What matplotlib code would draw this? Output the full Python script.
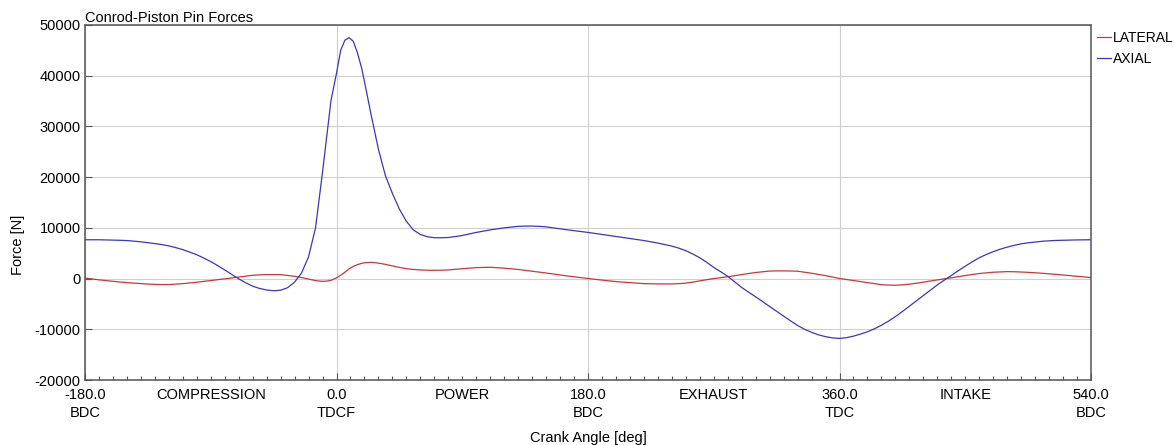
#!/usr/bin/env python3

import matplotlib
matplotlib.use('Agg')
import matplotlib.pyplot as plt
from matplotlib.ticker import MultipleLocator

# crank angle [deg] and pin forces [N]
angle = [-180, -175, -170, -165, -160, -155, -150, -145, -140, -135,
         -130, -125, -120, -115, -110, -105, -100, -95, -90, -85,
         -80, -75, -70, -65, -60, -55, -50, -45, -40, -35,
         -30, -25, -20, -15,
         -10, -7, -4, 0, 3, 6, 9, 12, 15, 18, 21,
         25, 30, 35, 40, 45, 50, 55, 60, 65, 70,
         75, 80, 85, 90, 95, 100, 105, 110, 115, 120,
         125, 130, 135, 140, 145, 150, 155, 160, 165, 170,
         175, 180, 185, 190, 195, 200, 205, 210, 215, 220,
         225, 230, 235, 240, 245, 250, 255, 260, 265, 270,
         275, 280, 285, 290, 295, 300, 305, 310, 315, 320,
         325, 330, 335, 340, 345, 350, 355, 360, 365, 370,
         375, 380, 385, 390, 395, 400, 405, 410, 415, 420,
         425, 430, 435, 440, 445, 450, 455, 460, 465, 470,
         475, 480, 485, 490, 495, 500, 505, 510, 515, 520,
         525, 530, 535, 540]

axial = [7650, 7650, 7650, 7620, 7600, 7550, 7500, 7380, 7250, 7080,
         6900, 6700, 6450, 6100, 5700, 5220, 4700, 4050, 3350, 2550,
         1700, 820, -50, -820, -1500, -1950, -2250, -2400, -2300, -1800,
         -700, 1100, 4300, 10000,
         21000, 28000, 35000, 40500, 45000, 47000, 47500, 46800, 44500, 41500, 37500,
         32000, 25500, 20300, 16800, 13700, 11300, 9600, 8700, 8250, 8050,
         8050, 8100, 8280, 8500, 8800, 9100, 9350, 9600, 9800, 10000,
         10150, 10300, 10350, 10350, 10300, 10200, 10000, 9800, 9620, 9450,
         9280, 9100, 8900, 8700, 8500, 8300, 8100, 7900, 7700, 7500,
         7250, 7000, 6700, 6400, 6000, 5500, 4850, 4100, 3200, 2200,
         1350, 450, -650, -1750, -2700, -3600, -4550, -5500, -6450, -7400,
         -8350, -9250, -10000, -10600, -11100, -11450, -11700, -11800, -11650, -11350,
         -10950, -10500, -9900, -9200, -8400, -7500, -6500, -5450, -4400, -3350,
         -2300, -1250, -300, 600, 1550, 2450, 3300, 4100, 4750, 5300,
         5800, 6200, 6550, 6850, 7050, 7200, 7350, 7450, 7520, 7560,
         7600, 7620, 7640, 7650]

lateral = [100, -80, -250, -400, -550, -680, -800, -900, -1000, -1080,
           -1150, -1180, -1180, -1100, -1000, -870, -720, -560, -400, -220,
           -50, 130, 300, 480, 650, 740, 780, 790, 780, 620,
           450, 200, -100, -400,
           -550, -500, -350, 150, 650, 1250, 1900, 2400, 2750, 3000, 3150,
           3200, 3050, 2800, 2500, 2200, 1950, 1800, 1700, 1650, 1630,
           1650, 1700, 1820, 1950, 2060, 2150, 2200, 2220, 2150, 2050,
           1930, 1800, 1630, 1450, 1280, 1100, 900, 700, 520, 350,
           170, 0, -150, -300, -450, -600, -700, -800, -900, -1000,
           -1030, -1050, -1060, -1050, -1000, -900, -700, -450, -220, 0,
           180, 350, 570, 800, 1000, 1200, 1350, 1480, 1520, 1520,
           1500, 1450, 1260, 1050, 820, 580, 300, 20, -180, -380,
           -600, -800, -1000, -1200, -1280, -1320, -1230, -1100, -920, -700,
           -480, -250, -50, 150, 380, 600, 800, 1000, 1130, 1250,
           1320, 1370, 1350, 1300, 1230, 1150, 1050, 950, 830, 700,
           570, 450, 320, 200]

dead_centres = [-180, 0, 180, 360, 540]
dc_labels = ['-180.0\nBDC', '0.0\nTDCF', '180.0\nBDC', '360.0\nTDC', '540.0\nBDC']
strokes = ['COMPRESSION', 'POWER', 'EXHAUST', 'INTAKE']

plt.rcParams['font.family'] = ['Liberation Sans', 'DejaVu Sans']
plt.rcParams['font.size'] = 10.5
plt.rcParams['axes.unicode_minus'] = False

fig = plt.figure(figsize=(11.74, 4.45), dpi=100)
ax = fig.add_axes([85/1174, 1-380/445, 1006/1174, 355/445])

ax.plot(angle, lateral, color='#c83838', linewidth=0.9, label='LATERAL')
ax.plot(angle, axial, color='#3838b8', linewidth=0.9, label='AXIAL')

ax.set_xlim(-180, 540)
ax.set_ylim(-20000, 50000)

ax.set_xticks(dead_centres)
ax.set_xticklabels(dc_labels)
for lbl in ax.get_xticklabels():
    lbl.set_linespacing(1.4)
ax.xaxis.set_minor_locator(MultipleLocator(10))
ax.yaxis.set_major_locator(MultipleLocator(10000))

ax.tick_params(axis='both', which='major', direction='in', length=5,
               width=0.8, color='#555555', pad=3, labelsize=10.5)
ax.tick_params(axis='x', which='major', pad=5.5)
ax.tick_params(axis='x', which='minor', direction='in', length=3,
               width=0.8, color='#555555')

ax.grid(True, which='major', color='#cfcfcf', linewidth=0.8)
for s in ax.spines.values():
    s.set_color('#555555')
    s.set_linewidth(1.1)

# stroke names halfway between the dead centres
mids = [(a + b) / 2 for a, b in zip(dead_centres[:-1], dead_centres[1:])]
for m, name in zip(mids, strokes):
    ax.text(m, -0.0215, name, transform=ax.get_xaxis_transform(),
            ha='center', va='top', fontsize=10.5)

ax.set_title('Conrod-Piston Pin Forces', loc='left', fontsize=10.5, pad=0.5)
ax.set_xlabel('Crank Angle [deg]', labelpad=8)
ax.set_ylabel('Force [N]')
ax.yaxis.set_label_coords(-0.06, 0.38)

ax.legend(loc='upper left', bbox_to_anchor=(1.0, 1.0), frameon=False,
          handlelength=1.0, handletextpad=0.1, borderpad=0.35,
          borderaxespad=0.1, labelspacing=0.45, fontsize=10)

fig.savefig('out.png', dpi=100)
plt.close(fig)
